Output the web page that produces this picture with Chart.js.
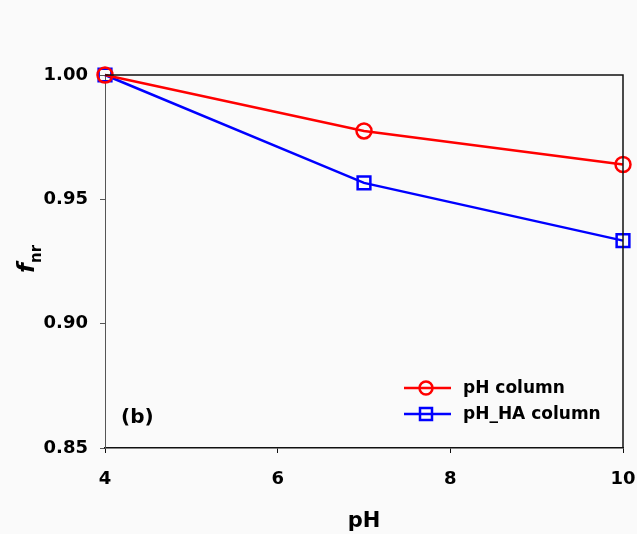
<!DOCTYPE html>
<html>
<head>
<meta charset="utf-8">
<script src="https://cdn.jsdelivr.net/npm/chart.js@4"></script>
<style>
  html, body { margin:0; padding:0; background:#fafafa; }
  #wrap { width:637px; height:534px; position:relative; }
</style>
</head>
<body>
<div id="wrap"><canvas id="ch-fnr" width="637" height="534"></canvas></div>
<script>
// data
const phValues = [4, 7, 10];
const phColumn = [1.000, 0.9775, 0.964];
const phHaColumn = [1.000, 0.9566, 0.9334];
const yTicks = [0.85, 0.90, 0.95, 1.00];
const xTicks = [4, 6, 8, 10];
const seriesNames = ['pH column', 'pH_HA column'];

const FONT = '"DejaVu Sans", sans-serif';

// frame, y title with subscript, panel tag and legend
const extras = {
  id: 'extras',
  afterDraw(chart) {
    const { ctx, chartArea: a } = chart;
    ctx.save();
    // top + right frame
    ctx.strokeStyle = '#111';
    ctx.lineWidth = 1.5;
    ctx.beginPath();
    ctx.moveTo(a.left, a.top);
    ctx.lineTo(a.right, a.top);
    ctx.lineTo(a.right, a.bottom);
    ctx.stroke();

    // y title: f_nr
    ctx.translate(34, 273);
    ctx.rotate(-Math.PI / 2);
    ctx.fillStyle = '#000';
    ctx.textBaseline = 'alphabetic';
    ctx.textAlign = 'left';
    ctx.font = 'italic bold 23px ' + FONT;
    ctx.fillText('f', 0, 0);
    const fw = ctx.measureText('f').width;
    ctx.font = 'bold 15px ' + FONT;
    ctx.fillText('nr', fw, 7);
    ctx.restore();

    ctx.save();
    ctx.fillStyle = '#000';
    ctx.font = 'bold 20px ' + FONT;
    ctx.textBaseline = 'middle';
    ctx.fillText('(b)', 121, 418);

    // legend
    const colors = ['#ff0000', '#0000ff'];
    const rows = [388, 414];
    rows.forEach((y, i) => {
      ctx.strokeStyle = colors[i];
      ctx.lineWidth = 2.5;
      ctx.beginPath();
      ctx.moveTo(404, y);
      ctx.lineTo(451, y);
      ctx.stroke();
      ctx.beginPath();
      if (i === 0) ctx.arc(426, y, 6.5, 0, Math.PI * 2);
      else ctx.rect(420, y - 6, 12, 12);
      ctx.lineWidth = 2.5;
      ctx.stroke();
      ctx.fillStyle = '#000';
      ctx.font = 'bold 17px ' + FONT;
      ctx.textBaseline = 'middle';
      ctx.fillText(seriesNames[i], 463, y + 1);
    });
    ctx.restore();
  }
};

new Chart(document.getElementById('ch-fnr'), {
  type: 'line',
  data: {
    datasets: [
      {
        label: seriesNames[0],
        data: phValues.map((x, i) => ({ x, y: phColumn[i] })),
        borderColor: '#ff0000',
        backgroundColor: 'rgba(0,0,0,0)',
        borderWidth: 2.5,
        pointStyle: 'circle',
        pointRadius: 7.5,
        pointBorderWidth: 2.5,
        tension: 0,
        clip: false
      },
      {
        label: seriesNames[1],
        data: phValues.map((x, i) => ({ x, y: phHaColumn[i] })),
        borderColor: '#0000ff',
        backgroundColor: 'rgba(0,0,0,0)',
        borderWidth: 2.5,
        pointStyle: 'rect',
        pointRadius: 9,
        pointBorderWidth: 2.5,
        tension: 0,
        clip: false
      }
    ]
  },
  options: {
    responsive: false,
    animation: false,
    layout: { padding: { left: 0, top: 75, right: 14, bottom: 0 } },
    plugins: { legend: { display: false }, tooltip: { enabled: false } },
    scales: {
      x: {
        type: 'linear',
        min: 4, max: 10,
        afterBuildTicks: s => { s.ticks = xTicks.map(v => ({ value: v })); },
        afterFit: s => { s.height = 86; s.paddingLeft = 0; s.paddingRight = 0; },
        grid: { drawOnChartArea: false, drawTicks: true, tickLength: 5, color: '#111', lineWidth: 1 },
        border: { display: true, color: '#111', width: 1.5 },
        ticks: { color: '#000', padding: 16, maxRotation: 0, font: { family: FONT, size: 18, weight: 'bold' } },
        title: { display: true, text: 'pH', color: '#000', padding: { top: 14, bottom: 0 }, font: { family: FONT, size: 21, weight: 'bold' } }
      },
      y: {
        min: 0.85, max: 1.00,
        afterBuildTicks: s => { s.ticks = yTicks.map(v => ({ value: v })); },
        afterFit: s => { s.width = 105; s.paddingTop = 0; s.paddingBottom = 0; },
        grid: { drawOnChartArea: false, drawTicks: true, tickLength: 5, color: '#555', lineWidth: 1 },
        border: { display: true, color: '#555', width: 1 },
        ticks: { color: '#000', padding: 12, callback: v => v.toFixed(2), font: { family: FONT, size: 18, weight: 'bold' } }
      }
    }
  },
  plugins: [extras]
});
</script>
</body>
</html>
